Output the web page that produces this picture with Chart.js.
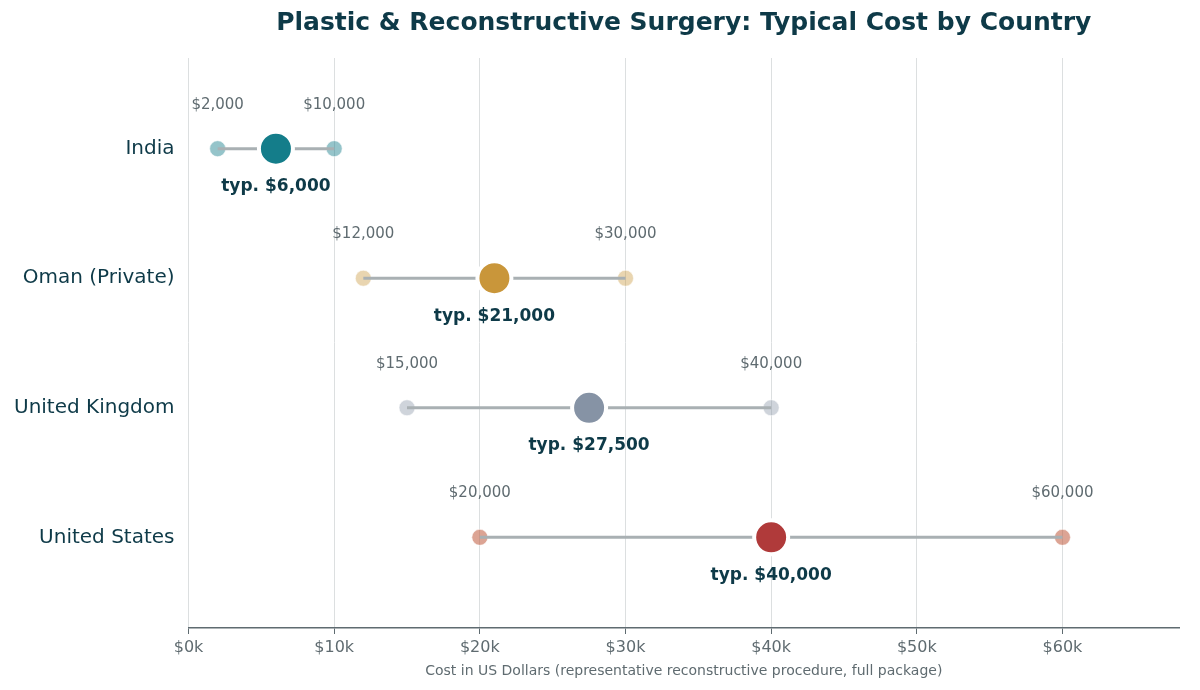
<!DOCTYPE html>
<html>
<head>
<meta charset="utf-8">
<script src="https://cdn.jsdelivr.net/npm/chart.js@4/dist/chart.umd.min.js"></script>
<style>
  html, body { margin: 0; padding: 0; background: #fff; }
  #wrap { width: 1200px; height: 690px; }
</style>
</head>
<body>
<div id="wrap"><canvas id="c"></canvas></div>
<script>
// ── Data ───────────────────────────────────────────
const countries = ['India', 'Oman (Private)', 'United Kingdom', 'United States'];
const lowCost = [2000, 12000, 15000, 20000];
const typicalCost = [6000, 21000, 27500, 40000];
const highCost = [10000, 30000, 40000, 60000];
const mainColors = ['#147d8a', '#c9963a', '#8693a5', '#b03a3a'];
const endColors = ['rgba(20,125,138,0.45)', 'rgba(201,150,58,0.4)', 'rgba(134,147,165,0.4)', 'rgba(192,90,60,0.55)'];
const xTicks = [0, 10000, 20000, 30000, 40000, 50000, 60000];

const fmt = v => '$' + v.toLocaleString('en-US');
const FONT = "'DejaVu Sans', sans-serif";
Chart.defaults.font.family = FONT;

const datasets = [];
countries.forEach((name, i) => {
    datasets.push({
        type: 'line',
        data: [{ x: lowCost[i], y: i }, { x: highCost[i], y: i }],
        borderColor: '#a9b0b3',
        borderWidth: 3,
        pointRadius: 0,
        order: 2,
    });
    datasets.push({
        type: 'scatter',
        data: [{ x: lowCost[i], y: i }, { x: highCost[i], y: i }],
        backgroundColor: endColors[i],
        borderColor: 'rgba(255,255,255,0.6)',
        borderWidth: 1,
        pointRadius: 8,
        order: 3,
    });
    datasets.push({
        type: 'scatter',
        data: [{ x: typicalCost[i], y: i }],
        backgroundColor: mainColors[i],
        borderColor: '#ffffff',
        borderWidth: 4,
        pointRadius: 17,
        order: 1,
    });
});

// ── Labels and title ───────────────────────────────
const labelPlugin = {
    id: 'labels',
    afterDatasetsDraw(chart) {
        const { ctx, scales: { x, y }, chartArea } = chart;
        ctx.save();
        ctx.textAlign = 'center';
        ctx.textBaseline = 'middle';
        countries.forEach((name, i) => {
            const py = y.getPixelForValue(i);
            ctx.font = '15px ' + FONT;
            ctx.fillStyle = '#5f6b70';
            ctx.fillText(fmt(lowCost[i]), x.getPixelForValue(lowCost[i]), py - 44);
            ctx.fillText(fmt(highCost[i]), x.getPixelForValue(highCost[i]), py - 44);
            ctx.font = 'bold 17px ' + FONT;
            ctx.fillStyle = '#0e3a48';
            ctx.fillText('typ. ' + fmt(typicalCost[i]), x.getPixelForValue(typicalCost[i]), py + 38);
        });
        ctx.font = 'bold 25px ' + FONT;
        ctx.fillStyle = '#0e3a48';
        ctx.fillText('Plastic & Reconstructive Surgery: Typical Cost by Country', (chartArea.left + chartArea.right) / 2, 23);
        ctx.restore();
    }
};

new Chart(document.getElementById('c'), {
    data: { datasets },
    options: {
        responsive: true,
        maintainAspectRatio: false,
        animation: false,
        layout: { padding: { top: 58, right: 12, left: 8, bottom: 6 } },
        plugins: { legend: { display: false }, tooltip: { enabled: false } },
        scales: {
            x: {
                type: 'linear',
                min: 0,
                max: 68000,
                afterBuildTicks: s => { s.ticks = xTicks.map(v => ({ value: v })); },
                ticks: { callback: v => '$' + (v / 1000) + 'k', color: '#5f6b70', font: { size: 16 }, padding: 4 },
                grid: { color: '#dcdfe0', drawTicks: true, tickLength: 6, tickColor: '#5f6b70' },
                border: { color: '#5f6b70', width: 1.5 },
                title: {
                    display: true,
                    text: 'Cost in US Dollars (representative reconstructive procedure, full package)',
                    color: '#5f6b70',
                    font: { size: 14 },
                    padding: { top: 2 }
                }
            },
            y: {
                type: 'linear',
                min: -0.7,
                max: 3.7,
                reverse: true,
                afterBuildTicks: s => { s.ticks = countries.map((c, i) => ({ value: i })); },
                ticks: { callback: v => countries[v], color: '#0e3a48', font: { size: 20 }, padding: 6 },
                grid: { display: false },
                border: { display: false }
            }
        }
    },
    plugins: [labelPlugin]
});
</script>
</body>
</html>
